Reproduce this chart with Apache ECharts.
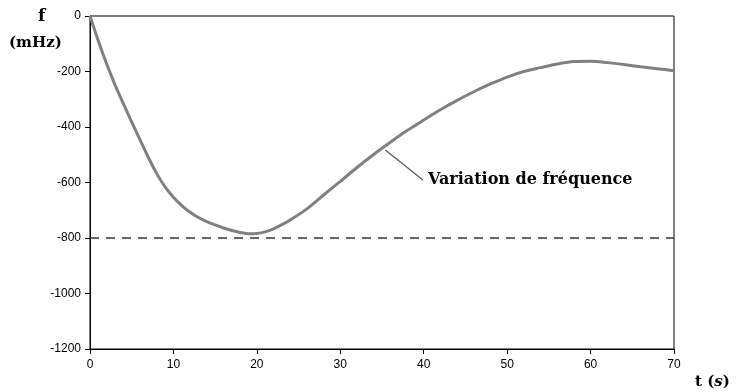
<!DOCTYPE html>
<html>
<head>
<meta charset="utf-8">
<script src="https://cdn.jsdelivr.net/npm/echarts@6/dist/echarts.min.js"></script>
<style>html,body{margin:0;padding:0;background:#fff}#c{width:737px;height:392px}</style>
</head>
<body>
<div id="c"></div>
<script>
const times = [0,1,2,3,4,5,6,7,8,9,10,11,12,13,14,15,16,17,18,19,20,21,22,23,24,26,28,30,32,34,36,38,40,42,44,46,48,50,52,54,56,58,60,62,64,66,68,70];
const freq  = [0,-90,-173,-248,-316,-382,-446,-510,-568,-616,-653,-683,-707,-726,-741,-753,-764,-773,-780,-785,-784,-778,-767,-752,-735,-695,-645,-596,-546,-499,-455,-413,-375,-338,-304,-273,-245,-220,-200,-186,-173,-164,-163,-168,-175,-183,-190,-197];
const limitT = [0,70];
const limitF = [-800,-800];
const xTicks = [0,10,20,30,40,50,60,70];
const yTicks = [-1200,-1000,-800,-600,-400,-200,0];
const leaderT = [35.4,39.9];
const leaderF = [-483,-591];
const seriesName = 'Variation de fréquence';

const chart = echarts.init(document.getElementById('c'), null, {renderer:'canvas'});
const labelFont = {fontFamily:'Liberation Sans, Arial, sans-serif', fontSize:12, color:'#000'};
chart.setOption({
  animation:false,
  backgroundColor:'#fff',
  grid:{left:90, right:63, top:16, bottom:43, show:true, borderColor:'#000', borderWidth:1},
  xAxis:{type:'value', min:xTicks[0], max:xTicks[xTicks.length-1], interval:10,
    axisLine:{show:true, onZero:false, lineStyle:{color:'#000', width:1}},
    axisTick:{show:true, inside:false, length:5, lineStyle:{color:'#000', width:1}},
    axisLabel:Object.assign({margin:10, formatter:v=>String(v)}, labelFont),
    splitLine:{show:false}},
  yAxis:{type:'value', min:yTicks[0], max:yTicks[yTicks.length-1], interval:200,
    axisLine:{show:true, onZero:false, lineStyle:{color:'#000', width:1}},
    axisTick:{show:true, inside:false, length:5, lineStyle:{color:'#000', width:1}},
    axisLabel:Object.assign({margin:9, formatter:v=>String(v)}, labelFont),
    splitLine:{show:false}},
  series:[
    {name:'seuil', type:'line', data:limitT.map((t,i)=>[t,limitF[i]]), symbol:'none',
      lineStyle:{color:'#333', width:1.5, type:[9,7]}, z:2},
    {name:seriesName, type:'line', data:times.map((t,i)=>[t,freq[i]]), symbol:'none', smooth:0.3,
      lineStyle:{color:'#808080', width:3}, z:3},
    {name:'leader', type:'line', data:leaderT.map((t,i)=>[t,leaderF[i]]), symbol:'none',
      lineStyle:{color:'#555', width:1.2}, z:4}
  ],
  graphic:[
    {type:'text', left:428, top:172, style:{text:seriesName, font:'bold 16px "DejaVu Serif", serif', fill:'#000'}},
    {type:'text', left:38, top:8, style:{text:'f', font:'bold 17px "DejaVu Serif", serif', fill:'#000'}},
    {type:'text', left:9, top:36, style:{text:'(mHz)', font:'bold 15px "DejaVu Serif", serif', fill:'#000'}},
    {type:'text', left:695, top:375, style:{rich:{a:{font:'bold 15px "DejaVu Serif", serif'}, b:{font:'bold italic 15px "DejaVu Serif", serif'}}, text:'{a|t (}{b|s}{a|)}', fill:'#000'}}
  ]
});
</script>
</body>
</html>
